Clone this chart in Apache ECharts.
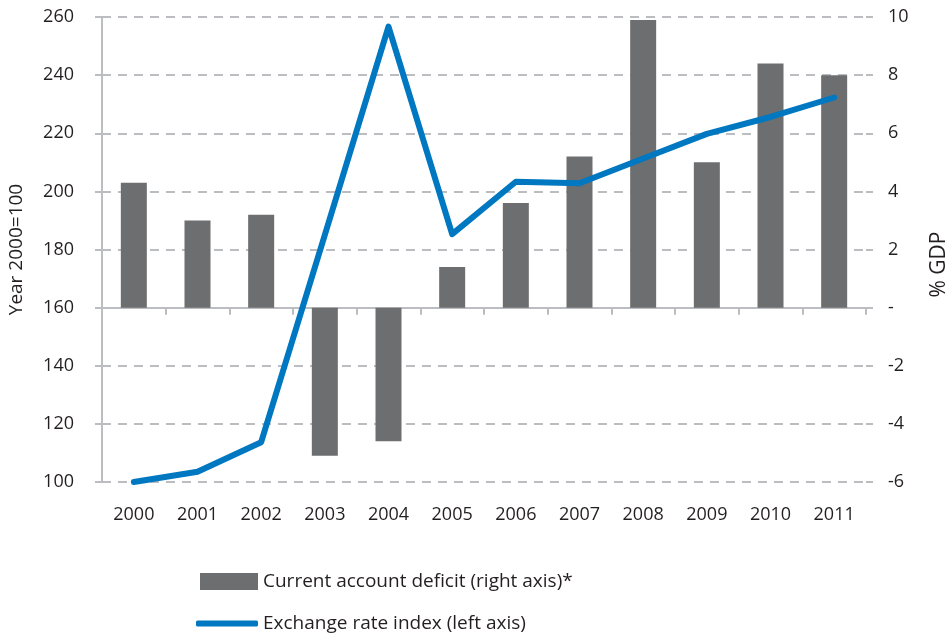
<!DOCTYPE html>
<html>
<head>
<meta charset="utf-8">
<script src="https://cdn.jsdelivr.net/npm/echarts@6/dist/echarts.min.js"></script>
<style>
  html, body { margin: 0; padding: 0; background: #ffffff; }
  #chart { width: 949px; height: 640px; }
</style>
</head>
<body>
<div id="chart"></div>
<script>
// Years on the category axis
const years = ['2000', '2001', '2002', '2003', '2004', '2005', '2006', '2007', '2008', '2009', '2010', '2011'];
// Current account deficit, % of GDP (right axis)
const currentAccountDeficit = [4.3, 3.0, 3.2, -5.1, -4.6, 1.4, 3.6, 5.2, 9.9, 5.0, 8.4, 8.0];
// Exchange rate index, year 2000 = 100 (left axis)
const exchangeRateIndex = [100, 103.5, 113.7, 185, 256.7, 185.3, 203.3, 202.8, 211.3, 219.8, 225.6, 232.3];

const BAR_NAME = 'Current account deficit (right axis)*';
const LINE_NAME = 'Exchange rate index (left axis)';

const FONT = '"Open Sans", "Noto Sans", sans-serif';
const TEXT = '#231f20';
const AXIS_GRAY = '#bcbdc0';
const BAR_GRAY = '#6d6e70';
const LINE_BLUE = '#0078c1';

const chart = echarts.init(document.getElementById('chart'), null, { renderer: 'canvas' });

const legendText = { fontFamily: FONT, fontSize: 19, color: TEXT };

chart.setOption({
  backgroundColor: '#ffffff',
  animation: false,
  textStyle: { fontFamily: FONT, color: TEXT },
  grid: { left: 102, right: 83, top: 17, height: 465, containLabel: false, outerBoundsMode: 'none' },
  legend: [
    {
      left: 195,
      top: 567,
      itemWidth: 58,
      itemHeight: 17,
      textStyle: legendText,
      data: [{ name: BAR_NAME, icon: 'rect' }]
    },
    {
      left: 191,
      top: 609,
      itemWidth: 62,
      itemHeight: 6,
      textStyle: legendText,
      data: [{ name: LINE_NAME, icon: 'roundRect', itemStyle: { color: LINE_BLUE } }]
    }
  ],
  xAxis: {
    type: 'category',
    data: years,
    boundaryGap: true,
    axisLine: { show: true, lineStyle: { color: AXIS_GRAY, width: 2 } },
    axisTick: { show: true, alignWithLabel: false, length: 7, lineStyle: { color: AXIS_GRAY, width: 2 } },
    axisLabel: { margin: 24, fontSize: 18, color: TEXT, fontFamily: FONT },
    splitLine: { show: false }
  },
  yAxis: [
    {
      type: 'value',
      position: 'left',
      min: 100,
      max: 260,
      interval: 20,
      name: 'Year 2000=100',
      nameLocation: 'middle',
      nameGap: 76,
      nameRotate: 90,
      nameTextStyle: { fontSize: 19, color: TEXT, fontFamily: FONT },
      axisLine: { show: true, lineStyle: { color: AXIS_GRAY, width: 2 } },
      axisTick: { show: true, length: 7, lineStyle: { color: AXIS_GRAY, width: 2 } },
      axisLabel: { margin: 28, fontSize: 18, color: TEXT, fontFamily: FONT },
      splitLine: { show: true, lineStyle: { color: AXIS_GRAY, width: 2, type: [9, 7] } }
    },
    {
      type: 'value',
      position: 'right',
      min: -6,
      max: 10,
      interval: 2,
      name: '% GDP',
      nameLocation: 'middle',
      nameGap: 63,
      nameRotate: 90,
      nameTextStyle: { fontSize: 21, color: TEXT, fontFamily: FONT, padding: [0, 30, 0, 0] },
      axisLine: { show: false },
      axisTick: { show: true, length: 7, lineStyle: { color: AXIS_GRAY, width: 2 } },
      axisLabel: {
        margin: 22,
        fontSize: 18,
        color: TEXT,
        fontFamily: FONT,
        formatter: v => (v === 0 ? '-' : String(v))
      },
      splitLine: { show: false }
    }
  ],
  series: [
    {
      name: BAR_NAME,
      type: 'bar',
      yAxisIndex: 1,
      data: currentAccountDeficit,
      barWidth: 26,
      itemStyle: { color: BAR_GRAY },
      z: 2
    },
    {
      name: LINE_NAME,
      type: 'line',
      yAxisIndex: 0,
      data: exchangeRateIndex,
      symbol: 'none',
      lineStyle: { color: LINE_BLUE, width: 6, cap: 'round', join: 'round' },
      itemStyle: { color: LINE_BLUE },
      z: 3
    }
  ]
});
</script>
</body>
</html>
